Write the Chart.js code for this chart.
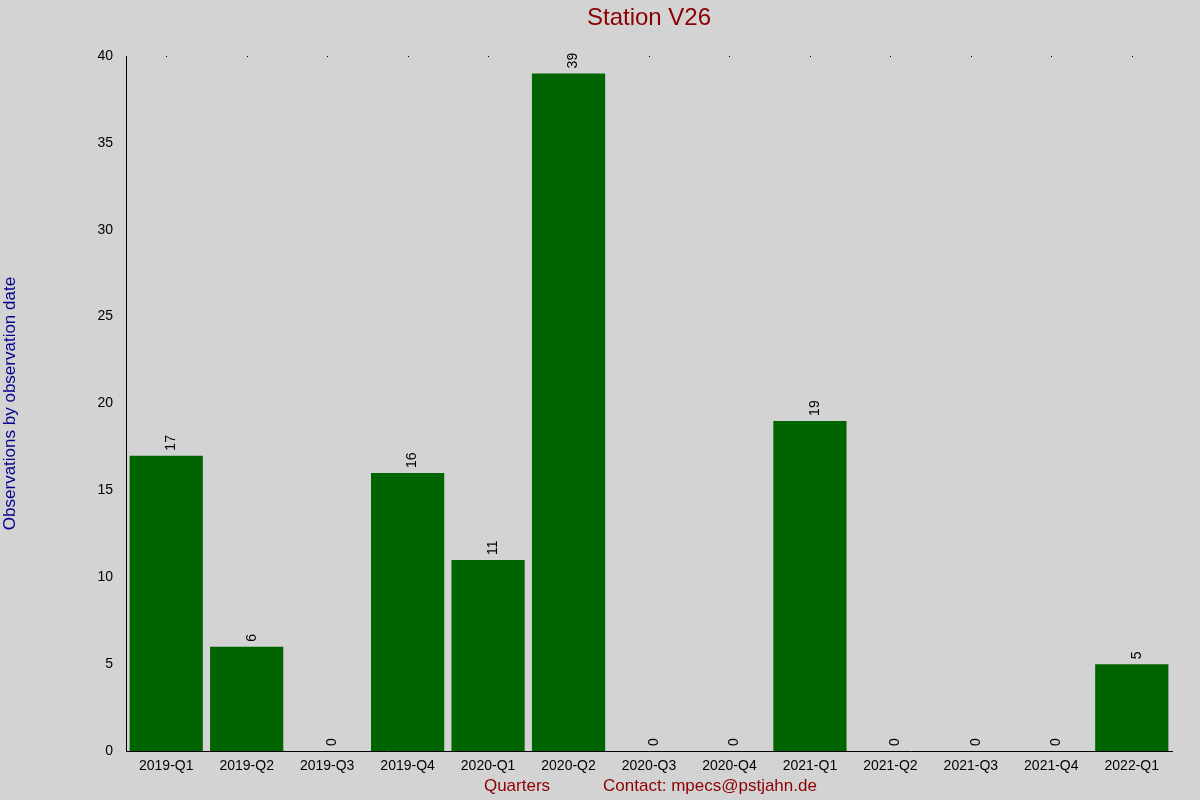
<!DOCTYPE html>
<html>
<head>
<meta charset="utf-8">
<script src="https://cdn.jsdelivr.net/npm/chart.js@4"></script>
<style>
  html, body { margin: 0; padding: 0; background: #d3d3d3; }
  #wrap { width: 1200px; height: 800px; }
</style>
</head>
<body>
<div id="wrap"><canvas id="stationChart"></canvas></div>
<script>
const quarters = ['2019-Q1', '2019-Q2', '2019-Q3', '2019-Q4', '2020-Q1', '2020-Q2', '2020-Q3',
  '2020-Q4', '2021-Q1', '2021-Q2', '2021-Q3', '2021-Q4', '2022-Q1'];
const observations = [17, 6, 0, 16, 11, 39, 0, 0, 19, 0, 0, 0, 5];
const yTicks = [0, 5, 10, 15, 20, 25, 30, 35, 40];

Chart.defaults.font.family = 'Arial, "Liberation Sans", sans-serif';
Chart.defaults.color = 'black';

// value labels, top dots, title and footer texts
const extras = {
  id: 'extras',
  afterDatasetsDraw(chart) {
    const ctx = chart.ctx;
    const meta = chart.getDatasetMeta(0);
    const area = chart.chartArea;
    ctx.save();
    ctx.font = '14px Arial, "Liberation Sans", sans-serif';
    ctx.fillStyle = 'black';
    meta.data.forEach((bar, i) => {
      ctx.save();
      ctx.translate(bar.x + 5, bar.y - 5);
      ctx.rotate(-Math.PI / 2);
      ctx.textAlign = 'left';
      ctx.textBaseline = 'middle';
      ctx.fillText(String(observations[i]), 0, 0);
      ctx.restore();
      ctx.fillRect(Math.round(bar.x), area.top, 1, 1);
    });
    ctx.textAlign = 'center';
    ctx.textBaseline = 'middle';
    ctx.fillStyle = '#8b0000';
    ctx.font = '24px Arial, "Liberation Sans", sans-serif';
    ctx.fillText('Station V26', 649, 18);
    ctx.font = '17px Arial, "Liberation Sans", sans-serif';
    ctx.fillText('Quarters', 517, 786);
    ctx.fillText('Contact: mpecs@pstjahn.de', 710, 786);
    ctx.restore();
  }
};

new Chart(document.getElementById('stationChart'), {
  type: 'bar',
  data: {
    labels: quarters,
    datasets: [{
      data: observations,
      backgroundColor: '#006400',
      barPercentage: 0.91,
      categoryPercentage: 1.0
    }]
  },
  options: {
    responsive: true,
    maintainAspectRatio: false,
    animation: false,
    layout: { padding: { top: 56, right: 28, left: 0, bottom: 0 } },
    plugins: { legend: { display: false }, tooltip: { enabled: false } },
    scales: {
      x: {
        grid: { display: false, drawTicks: true, tickLength: 5 },
        border: { color: 'black' },
        ticks: { font: { size: 14 }, maxRotation: 0, padding: 2 },
        afterFit(scale) { scale.height = 49; }
      },
      y: {
        min: 0, max: 40,
        afterBuildTicks(scale) { scale.ticks = yTicks.map(v => ({ value: v })); },
        grid: { display: false, drawTicks: true, tickLength: 7 },
        border: { color: 'black' },
        ticks: { font: { size: 14 }, padding: 6 },
        title: {
          display: true,
          text: 'Observations by observation date',
          color: '#00008b',
          font: { size: 17 },
          padding: { top: 0, bottom: 0 }
        },
        afterFit(scale) { scale.width = 126; }
      }
    }
  },
  plugins: [extras]
});
</script>
</body>
</html>
